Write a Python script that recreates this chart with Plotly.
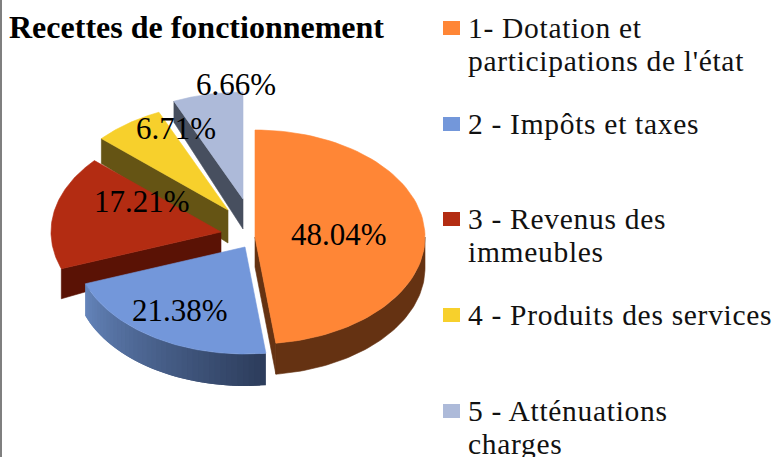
import math
import plotly.graph_objects as go

# ---- data ----
title = "Recettes de fonctionnement"
shares = [48.04, 21.38, 17.21, 6.71, 6.66]
legend_labels = ["1- Dotation et<br>participations de l'état",
                 "2 - Impôts et taxes",
                 "3 - Revenus des<br>immeubles",
                 "4 - Produits des services",
                 "5 - Atténuations<br>charges"]

# ---- style ----
top_colors = ["#FF8636", "#7397DA", "#B32C12", "#F7D02C", "#ADBAD9"]
side_colors = ["#653212", "#4a6491", "#5A1205", "#655414", "#474F5F"]
apex = [(255, 237), (245, 247), (221, 232), (228, 210), (243, 199)]
rx, ry = 170, 107
depth_apex = [30, 30, 21, 33, 30]
depth_rim = [31, 32, 30, 25, 21]
label_pos = [(339, 234), (180, 310), (142, 201), (176, 128), (236, 84)]
legend_y = [28, 124, 219, 315, 411]
line_h = 32.5
FONT = "Liberation Serif"

fig = go.Figure()
total = sum(shares)
starts, c = [], 0.0
for s in shares:
    starts.append(c)
    c += s
ang = [(a * 360 / total, (a + s) * 360 / total) for a, s in zip(starts, shares)]


def pt(i, deg, down=0.0):
    ax, ay = apex[i]
    t = math.radians(deg)
    return ax + rx * math.sin(t), ay - ry * math.cos(t) + down


def poly(xy, color, width=0.6):
    fig.add_trace(go.Scatter(x=[p[0] for p in xy] + [xy[0][0]], y=[p[1] for p in xy] + [xy[0][1]],
                             mode="lines", fill="toself", fillcolor=color,
                             line=dict(color=color, width=width), hoverinfo="skip", showlegend=False))


def mix(a, b, f):
    return "rgb(%d,%d,%d)" % tuple(a[k] + (b[k] - a[k]) * f for k in range(3))


def frange(a, b, n):
    return [a + (b - a) * k / n for k in range(n + 1)]


# draw back to front: 5, 4, 3, then 2, then 1
for i in [4, 3, 2, 1, 0]:
    a0, a1 = ang[i]
    ax, ay = apex[i]
    da, dr = depth_apex[i], depth_rim[i]
    if i in (4, 3, 2):  # cut face towards the viewer
        e = a0
        poly([(ax, ay), pt(i, e), pt(i, e, dr), (ax, ay + da)], side_colors[i])
    if i == 0:  # rim and thin cut face
        arc = frange(90, a1, 60)
        poly([pt(i, d) for d in arc] + [pt(i, d, dr) for d in reversed(arc)], side_colors[i])
        poly([(ax, ay), pt(i, a1), pt(i, a1, dr), (ax, ay + da)], side_colors[i])
    if i == 1:  # rim with a dark gradient, each step overlapping the next
        n = 40
        step = (a1 - a0) / n
        for k in range(n):
            d0 = a0 + step * k
            d1 = min(a0 + step * (k + 2), a1)
            col = mix((45, 61, 92), (100, 132, 186), k / (n - 1))
            poly([pt(i, d0), pt(i, d1), pt(i, d1, dr), pt(i, d0, dr)], col, 0)
    poly([(ax, ay)] + [pt(i, d) for d in frange(a0, a1, 80)], top_colors[i])

annotations = [dict(x=7, y=27, text="<b>%s</b>" % title, showarrow=False, xanchor="left", yanchor="middle",
                    font=dict(family=FONT, size=32, color="#000000"))]
for s, (x, y) in zip(shares, label_pos):
    annotations.append(dict(x=x, y=y, text="%.2f%%" % s, showarrow=False, xanchor="center", yanchor="middle",
                            font=dict(family=FONT, size=31, color="#000000")))
shapes = [dict(type="line", x0=1, x1=1, y0=0, y1=457, line=dict(color="#7F7F7F", width=2))]
for lab, col, y in zip(legend_labels, top_colors, legend_y):
    shapes.append(dict(type="rect", x0=443, x1=460, y0=y - 7, y1=y + 7, fillcolor=col, line=dict(width=0)))
    for k, part in enumerate(lab.split("<br>")):
        annotations.append(dict(x=466, y=y + k * line_h, text=part, showarrow=False, xanchor="left", yanchor="middle",
                                font=dict(family=FONT, size=29.5, color="#111111")))

fig.update_layout(width=774, height=457, margin=dict(l=0, r=0, t=0, b=0), showlegend=False,
                  paper_bgcolor="white", plot_bgcolor="white", annotations=annotations, shapes=shapes,
                  xaxis=dict(range=[0, 774], visible=False, fixedrange=True),
                  yaxis=dict(range=[457, 0], visible=False, fixedrange=True))
post = """
document.body.style.margin = '0';
document.body.style.overflow = 'hidden';
document.querySelectorAll('.annotation-text').forEach(function (t) {
  if (t.style.fontSize === '29.5px') {
    var before = t.getBBox().x;
    t.style.letterSpacing = '0.7px';
    var after = t.getBBox().x;
    t.setAttribute('x', parseFloat(t.getAttribute('x')) + before - after);
  }
});
"""
fig.write_html("out.html", config=dict(displayModeBar=False), post_script=post)
